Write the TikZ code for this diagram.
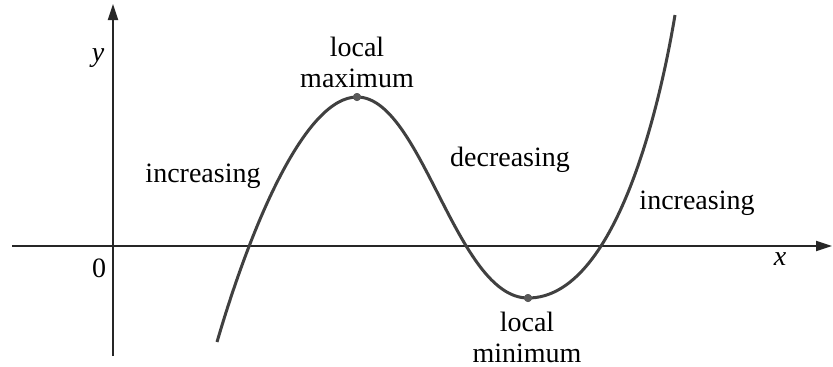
\documentclass[tikz,border=0pt]{standalone}
\usepackage{fontspec}
\setmainfont{Liberation Serif}
\usetikzlibrary{arrows.meta}
\begin{document}
\begin{tikzpicture}[x=0.5pt,y=-0.5pt,
  axis/.style={line width=1pt,draw=black!85,-{Triangle[length=8pt,width=5pt]}},
  curve/.style={line width=1.5pt,draw=black!75},
  extremum/.style={circle,fill=black!65,inner sep=0pt,minimum size=4pt},
  lbl/.style={font=\fontsize{14}{15.5}\selectfont,align=center,inner sep=0pt}]
\useasboundingbox (0,0) rectangle (833,366);
\coordinate (xs) at (12,246);
\coordinate (xe) at (832,246);
\coordinate (ys) at (113,356);
\coordinate (ye) at (113,4);
\draw[axis] (xs) -- (xe);
\draw[axis] (ys) -- (ye);
\node[extremum] (max) at (357,97) {};
\node[extremum] (min) at (528,298) {};
\coordinate (cs) at (217,342);
\coordinate (ce) at (675,15);
\draw[curve] (cs) .. controls (252,222) and (306,97) .. (max.center)
  .. controls (422,97) and (456,298) .. (min.center)
  .. controls (616,298) and (660,105) .. (ce);
\node[extremum] at (max) {};
\node[extremum] at (min) {};
\node[lbl,font=\fontsize{14}{15.5}\selectfont\itshape] (ylab) at (98,58) {y};
\node[lbl,font=\fontsize{14}{15.5}\selectfont\itshape] (xlab) at (780,259) {x};
\node[lbl] (zero) at (99,268) {0};
\node[lbl] (maxlab) at (357,62) {local\\maximum};
\node[lbl] (minlab) at (527,337) {local\\minimum};
\node[lbl] (inc1) at (203,176) {increasing};
\node[lbl] (dec) at (510,160) {decreasing};
\node[lbl] (inc2) at (697,203) {increasing};
\end{tikzpicture}
\end{document}
